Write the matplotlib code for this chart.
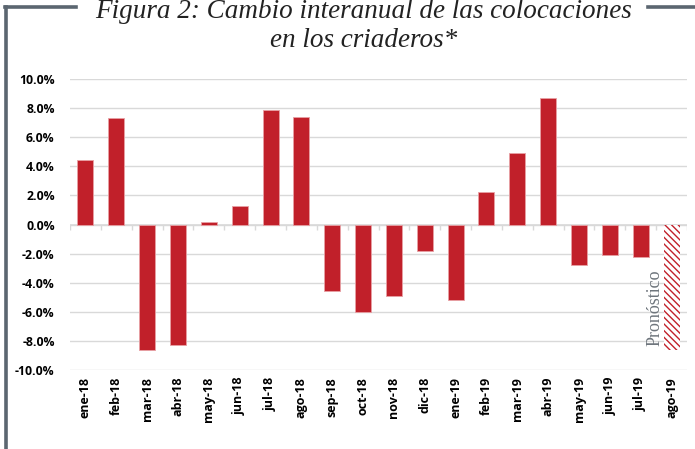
import matplotlib
matplotlib.use("Agg")
import matplotlib.pyplot as plt
from matplotlib.lines import Line2D
from matplotlib.ticker import FuncFormatter

categories = ["ene-18", "feb-18", "mar-18", "abr-18", "may-18", "jun-18", "jul-18",
              "ago-18", "sep-18", "oct-18", "nov-18", "dic-18", "ene-19", "feb-19",
              "mar-19", "abr-19", "may-19", "jun-19", "jul-19", "ago-19"]
values = [4.4, 7.3, -8.6, -8.3, 0.2, 1.3, 7.9, 7.4, -4.6, -6.0, -4.9, -1.8,
          -5.2, 2.2, 4.9, 8.7, -2.8, -2.1, -2.2, -8.6]
forecast_label = "Pronóstico"
title_line1 = "Figura 2: Cambio interanual de las colocaciones"
title_line2 = "en los criaderos*"

bar_color = "#C1202A"
grid_color = "#D9D9D9"
frame_color = "#5B6670"

fig = plt.figure(figsize=(6.95, 4.49), dpi=100)
ax = fig.add_axes([70/695, 1-370/449, 617/695, 291/449])

x = list(range(len(categories)))
n = len(categories)
ax.bar(x[:-1], values[:-1], width=0.52, color=bar_color, edgecolor="#E8A0A4", linewidth=0.6, zorder=3)
ax.bar(x[-1:], values[-1:], width=0.52, color="white", edgecolor=bar_color, hatch="\\\\\\\\\\", linewidth=0, zorder=3)

ax.set_xlim(-0.5, n - 0.5)
ax.set_ylim(-10, 10)
ax.set_yticks([v for v in range(-10, 11, 2)])
ax.yaxis.set_major_formatter(FuncFormatter(lambda v, p: f"{v:.1f}%"))
ax.grid(axis="y", color=grid_color, linewidth=1.0, zorder=0)
ax.set_axisbelow(True)
for s in ax.spines.values():
    s.set_visible(False)
ax.tick_params(axis="y", length=0, pad=11, labelsize=8.8)
for lab in ax.get_yticklabels():
    lab.set_fontweight("bold")
    lab.set_family("Open Sans")

ax.set_xticks(x)
ax.set_xticklabels(categories, rotation=90, fontsize=9, fontweight="bold", family="Open Sans")
ax.tick_params(axis="x", length=0, pad=5)

# zero line with boundary ticks
ax.axhline(0, color=grid_color, linewidth=1.2, zorder=2)
bounds = [i - 0.5 for i in range(n + 1)]
ax.vlines(bounds, 0, -0.35, color=grid_color, linewidth=1.0, zorder=2)

ax.text(n - 1.55, -8.35, forecast_label, rotation=90, family="Liberation Serif", fontsize=13,
        color="#6E757C", ha="center", va="bottom", zorder=4)

fig.text(0.523, 1 - 18/449, title_line1, ha="center", va="baseline", family="Liberation Serif",
         style="italic", fontsize=19.5, color="#222222")
fig.text(0.523, 1 - 47/449, title_line2, ha="center", va="baseline", family="Liberation Serif",
         style="italic", fontsize=19.5, color="#222222")

fig.add_artist(Line2D([6/695, 6/695], [0, 1 - 7/449], transform=fig.transFigure, color=frame_color, linewidth=2.6))
fig.add_artist(Line2D([5/695, 76/695], [1 - 7/449, 1 - 7/449], transform=fig.transFigure, color=frame_color, linewidth=2.6))
fig.add_artist(Line2D([648/695, 1], [1 - 7/449, 1 - 7/449], transform=fig.transFigure, color=frame_color, linewidth=2.6))

fig.savefig("out.png", dpi=100)
